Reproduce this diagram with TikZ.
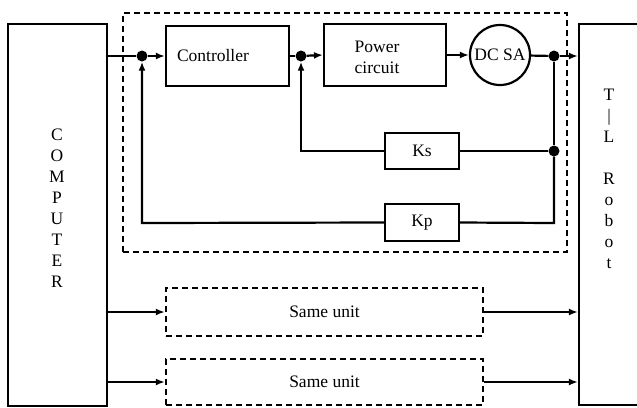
\documentclass[tikz,border=0pt]{standalone}
\usepackage{fontspec}
\setmainfont{Liberation Serif}
\usetikzlibrary{arrows.meta}
\begin{document}
\begin{tikzpicture}[x=1bp,y=-1bp,
  blk/.style={draw, line width=2.2bp, inner sep=0pt},
  dbox/.style={draw, line width=2.4bp, dash pattern=on 6bp off 4bp, inner sep=0pt},
  ln/.style={line width=2.2bp},
  arr/.style={ln, -{Latex[length=9bp,width=7bp]}},
  jdot/.style={circle, fill, inner sep=0pt, minimum size=11bp},
  font=\fontsize{17.5bp}{21bp}\selectfont]
\useasboundingbox (0,0) rectangle (637,407);
% big boxes
\node[blk, minimum width=99bp, minimum height=382bp] (comp) at (57.5,215) {};
\node[align=center] (comptxt) at (57,208.5) {C\\O\\M\\P\\U\\T\\E\\R};
\node[blk, minimum width=60bp, minimum height=381bp] (robot) at (609,214.5) {};
\node[align=center] (robottxt) at (609,178.5) {T\\|\\L\\\strut\\R\\o\\b\\o\\t};
% dashed unit
\node[dbox, minimum width=444bp, minimum height=239bp] (unit) at (345,132.5) {};
\node[blk, minimum width=123bp, minimum height=60bp, text width=101bp, inner xsep=11bp, align=left] (ctrl) at (227.5,56) {Controller};
\node[blk, minimum width=122bp, minimum height=62bp] (pc) at (385,55) {};
\node[align=center] (pctxt) at (377,57) {Power\\circuit};
\node[blk, circle, minimum size=60bp] (dc) at (500,55) {DC SA};
\node[blk, minimum width=74bp, minimum height=36bp] (ks) at (422,151) {Ks};
\node[blk, minimum width=74bp, minimum height=37bp] (kp) at (422,222.5) {Kp};
% junctions
\node[jdot] (j1) at (142,56) {};
\node[jdot] (j2) at (301,56) {};
\node[jdot] (j3) at (554,56) {};
\node[jdot] (j4) at (554,151) {};
\coordinate (c1) at (142,223);
\coordinate (c2) at (301,151);
\coordinate (c3) at (554,223);
% same units
\node[dbox, minimum width=317bp, minimum height=48bp] (su1) at (324.5,312) {Same unit};
\node[dbox, minimum width=317bp, minimum height=46bp] (su2) at (324.5,382) {Same unit};
% connectors
\draw[ln] (comp.east |- j1) -- (j1);
\draw[arr] (j1) -- (ctrl.west);
\draw[ln] (ctrl.east) -- (j2);
\draw[arr] (j2) -- (pc.west);
\draw[arr] (pc) -- (dc);
\draw[ln] (dc) -- (j3);
\draw[arr] (j3) -- (j3 -| robot.west);
\draw[ln] (j3) -- (j4);
\draw[ln] (j4) -- (ks.east);
\draw[arr] (ks.west) -- (c2) -- (j2.south);
\draw[ln] (j4) -- (c3) -- (kp.east);
\draw[arr] (kp.west) -- (c1) -- (j1.south);
\draw[arr] (su1.west -| comp.east) -- (su1.west);
\draw[arr] (su1.east) -- (su1.east -| robot.west);
\draw[arr] (su2.west -| comp.east) -- (su2.west);
\draw[arr] (su2.east) -- (su2.east -| robot.west);
\end{tikzpicture}
\end{document}
